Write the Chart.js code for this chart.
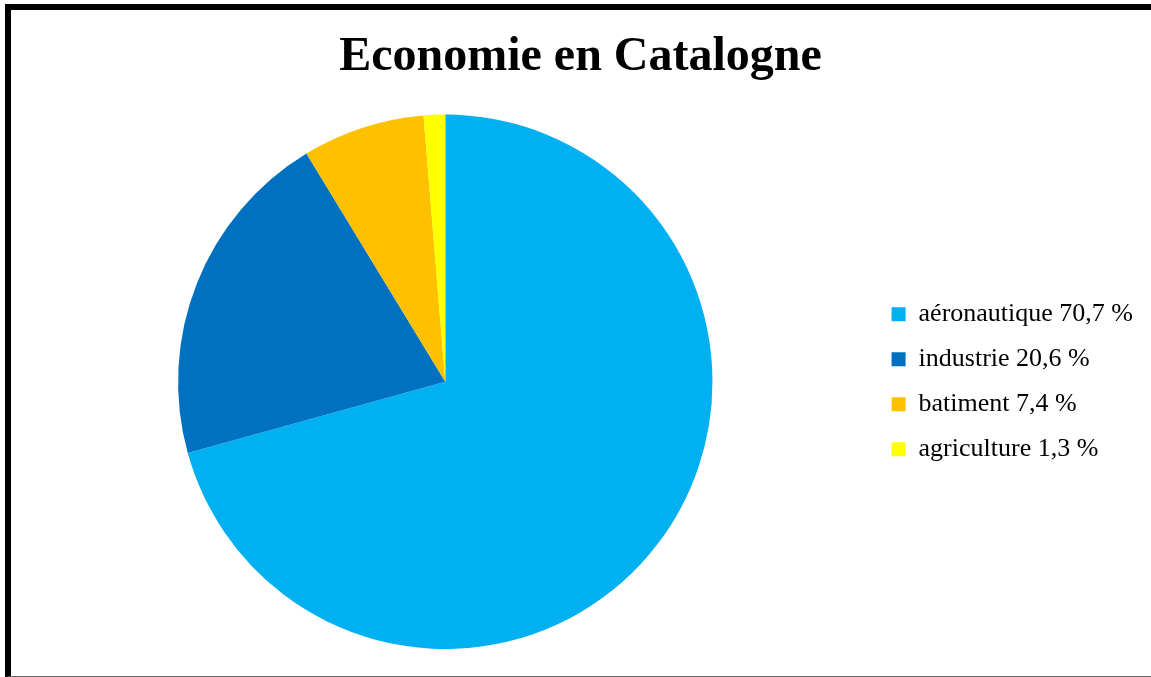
<!DOCTYPE html>
<html>
<head>
<meta charset="utf-8">
<script src="https://cdn.jsdelivr.net/npm/chart.js@4"></script>
<style>
    html, body { margin: 0; padding: 0; background: #fff; overflow: hidden; }
    #frame {
        position: absolute;
        left: 5px;
        top: 4px;
        width: 1160px;
        height: 666px;
        border-top: 6px solid #000;
        border-left: 6px solid #000;
        border-bottom: 1px solid #6b6b6b;
    }
    #wrap { position: absolute; left: 0; top: 0; width: 1141px; height: 666px; }
</style>
</head>
<body>
<div id="frame">
    <div id="wrap"><canvas id="pieChart"></canvas></div>
</div>
<script>
// Données du graphique
const categories = ['aéronautique 70,7 %', 'industrie 20,6 %', 'batiment 7,4 %', 'agriculture 1,3 %'];
const values = [70.7, 20.6, 7.4, 1.3];
const sliceColors = ['#00B0F0', '#0070C0', '#FFC000', '#FFFF00'];

const ctx = document.getElementById('pieChart').getContext('2d');

new Chart(ctx, {
    type: 'pie',
    data: {
        labels: categories,
        datasets: [{
            data: values,
            backgroundColor: sliceColors,
            borderWidth: 0
        }]
    },
    options: {
        responsive: true,
        maintainAspectRatio: false,
        animation: false,
        layout: {
            padding: { left: 7, right: 9, top: 0, bottom: 27 }
        },
        plugins: {
            title: {
                display: true,
                text: 'Economie en Catalogne',
                color: '#000',
                font: { family: 'Liberation Serif', size: 48, weight: 'bold' },
                padding: { top: 19, bottom: 28 }
            },
            legend: {
                position: 'right',
                fullSize: false,
                labels: {
                    color: '#000',
                    font: { family: 'Liberation Serif', size: 26 },
                    boxWidth: 14,
                    boxHeight: 14,
                    padding: 19
                }
            },
            tooltip: { enabled: false }
        }
    }
});
</script>
</body>
</html>
